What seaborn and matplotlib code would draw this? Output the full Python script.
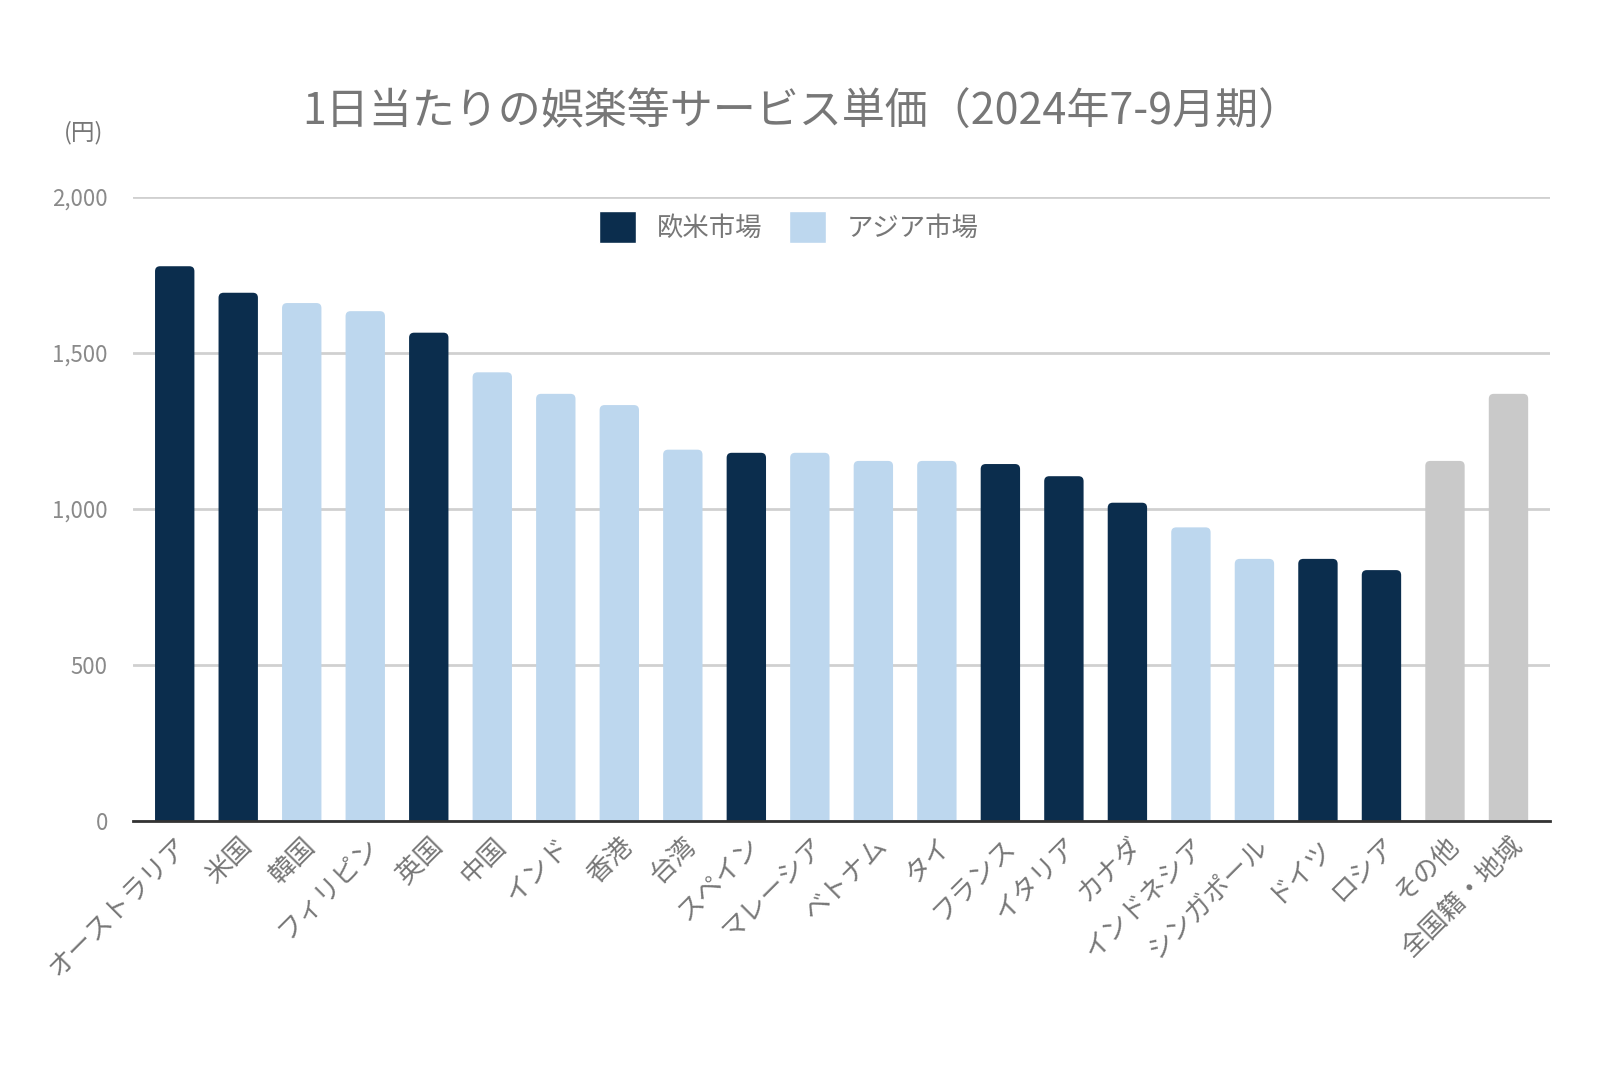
import matplotlib
matplotlib.use("Agg")
import matplotlib.pyplot as plt
import seaborn as sns
import pandas as pd
from matplotlib.patches import FancyBboxPatch, Patch

countries = ["オーストラリア", "米国", "韓国", "フィリピン", "英国", "中国", "インド", "香港",
             "台湾", "スペイン", "マレーシア", "ベトナム", "タイ", "フランス", "イタリア", "カナダ",
             "インドネシア", "シンガポール", "ドイツ", "ロシア", "その他", "全国籍・地域"]
values = [1778, 1693, 1660, 1634, 1565, 1438, 1369, 1333, 1190, 1180, 1180, 1154, 1154,
          1144, 1105, 1020, 941, 840, 840, 804, 1154, 1369]
groups = ["欧米市場", "欧米市場", "アジア市場", "アジア市場", "欧米市場", "アジア市場", "アジア市場",
          "アジア市場", "アジア市場", "欧米市場", "アジア市場", "アジア市場", "アジア市場", "欧米市場",
          "欧米市場", "欧米市場", "アジア市場", "アジア市場", "欧米市場", "欧米市場", "その他", "その他"]
yticks = [0, 500, 1000, 1500, 2000]
title = "1日当たりの娯楽等サービス単価（2024年7-9月期）"
palette = {"欧米市場": "#0b2d4d", "アジア市場": "#bdd7ee", "その他": "#c9c9c9"}

sns.set_theme(style="white")
plt.rcParams['font.family'] = ['Noto Sans CJK JP', 'DejaVu Sans']

df = pd.DataFrame({"country": countries, "value": values, "group": groups})

fig = plt.figure(figsize=(16, 10.67), dpi=100)
ax_w = 0.886
ax_h = 0.5848
ax = fig.add_axes([0.083, 0.2306, ax_w, ax_h])

sns.barplot(data=df, x="country", y="value", hue="group", palette=palette,
            dodge=False, width=0.62, legend=False, ax=ax, saturation=1)

pad = 0.16
ax.set_ylim(0, 2000)
ax.set_xlim(-0.5 - pad, len(countries) - 0.5 + pad)

# rounded tops
xpp = (len(countries) + 2 * pad) / (ax_w * 1600)
ypp = 2000 / (ax_h * 1067)
aspect = ypp / xpp
rs = 5 * xpp
for p in list(ax.patches):
    x0, w, h = p.get_x(), p.get_width(), p.get_height()
    if h <= 0:
        continue
    fc = p.get_facecolor()
    p.remove()
    fp = FancyBboxPatch((x0, -100), w, h + 100,
                        boxstyle=f"round,pad=0,rounding_size={rs}",
                        mutation_aspect=aspect, facecolor=fc, edgecolor="none", zorder=2)
    ax.add_patch(fp)

ax.set_yticks(yticks)
ax.set_yticklabels([f"{v:,}" for v in yticks])
ax.yaxis.grid(True, color="#d0d0d0", linewidth=2)
ax.set_axisbelow(True)
for s in ["top", "right", "left"]:
    ax.spines[s].set_visible(False)
ax.spines["bottom"].set_color("#333333")
ax.spines["bottom"].set_linewidth(2)
ax.spines["bottom"].set_zorder(5)
ax.tick_params(axis="y", length=0, pad=18, labelsize=16, labelcolor="#8a8a8a")
ax.tick_params(axis="x", length=0, pad=8, labelsize=19, labelcolor="#777777")
plt.setp(ax.get_xticklabels(), rotation=45, ha="right", rotation_mode="anchor")
ax.set_xlabel("")
ax.set_ylabel("")

fig.text(0.501, 0.894, title, ha="center", va="center", fontsize=31, color="#777777")
fig.text(0.052, 0.876, "(円)", ha="center", va="center", fontsize=17, color="#777777")

handles = [Patch(facecolor=palette["欧米市場"]), Patch(facecolor=palette["アジア市場"])]
leg = ax.legend(handles, ["欧米市場", "アジア市場"], loc="center", bbox_to_anchor=(0.463, 0.952),
                ncol=2, frameon=False, fontsize=19, handlelength=1.4, handleheight=1.5,
                handletextpad=0.8, columnspacing=1.0)
for t in leg.get_texts():
    t.set_color("#777777")

fig.savefig("out.png", dpi=100, facecolor="white")
